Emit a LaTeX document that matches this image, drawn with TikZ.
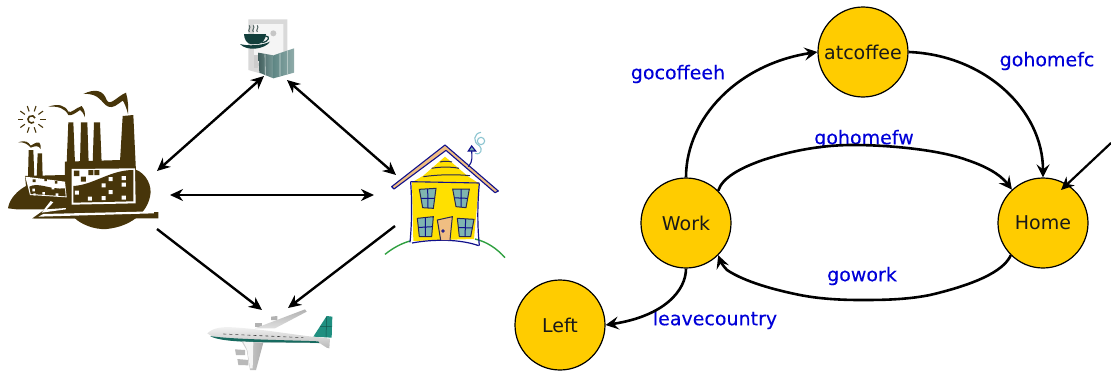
\documentclass[tikz,border=0pt]{standalone}
\usepackage{fontspec}
\setmainfont{DejaVu Sans}
\newfontfamily\labelfont[FakeBold=0.25]{DejaVu Sans}
\usetikzlibrary{arrows.meta,shadings}
\definecolor{statefill}{HTML}{FFCC00}
\definecolor{labelblue}{HTML}{0000D8}
\definecolor{factory}{HTML}{47350A}
\definecolor{hblue}{HTML}{10108C}
\definecolor{hdark}{HTML}{2A2A50}
\definecolor{hyellow}{HTML}{FFE000}
\definecolor{htan}{HTML}{F0BE82}
\definecolor{hpane}{HTML}{7FB5B0}
\definecolor{hgreen}{HTML}{2FA040}
\definecolor{hsmoke}{HTML}{8CC4D0}
\definecolor{planeteal}{HTML}{1F8F80}
\definecolor{booktl}{HTML}{5F8785}
\definecolor{cupdark}{HTML}{123F3C}
\tikzset{
 statenode/.style={circle,draw=black,line width=1.2pt,fill=statefill,minimum size=90pt,inner sep=0pt,text=black!90,font=\fontsize{19}{19}\selectfont},
 translabel/.style={text=labelblue,inner sep=0pt,font=\labelfont\fontsize{19}{19}\selectfont},
 trans/.style={line width=2.6pt,-{Stealth[length=13pt,width=13pt,inset=5pt]}},
 entryarrow/.style={line width=2.2pt,-{Stealth[length=13pt,width=12pt]}},
 dbl/.style={line width=2.4pt,{Stealth[length=13pt,width=12pt]}-{Stealth[length=13pt,width=12pt]}},
 single/.style={line width=2.4pt,-{Stealth[length=13pt,width=12pt]}},
 zoomed/.style={x=0.33333pt,y=-0.33333pt},
}
\begin{document}
\begin{tikzpicture}[x=1pt,y=-1pt]
\useasboundingbox (0,0) rectangle (1111,372);
\coordinate (officeA) at (264,76);
\coordinate (officeB) at (287,80);
\coordinate (factA) at (157,171);
\coordinate (factB) at (170,195);
\coordinate (factC) at (157,229);
\coordinate (houseA) at (396,175);
\coordinate (houseB) at (374,195);
\coordinate (houseC) at (395,226);
\coordinate (planeA) at (262,310);
\coordinate (planeB) at (288,308);
\draw[dbl] (factA) -- (officeA);
\draw[dbl] (officeB) -- (houseA);
\draw[dbl] (factB) -- (houseB);
\draw[single] (factC) -- (planeA);
\draw[single] (houseC) -- (planeB);
% ---- office
\begin{scope}[zoomed,xshift=230pt,yshift=-10pt]
\fill[gray!30] (55,28) -- (172,28) -- (172,165) -- (90,190) -- (55,180) -- cycle;
\fill[gray!8] (72,42) -- (160,42) -- (160,150) -- (72,160) -- cycle;
\fill[gray!45] (130,70) circle (9);
\fill[gray!40] (72,135) rectangle (85,175);
\shade[left color=booktl!70!black,right color=booktl!85!white] (85,128) -- (130,136) -- (130,205) -- (88,188) -- cycle;
\shade[left color=booktl,right color=booktl!70!white] (130,136) -- (192,115) -- (192,188) -- (130,205) -- cycle;
\draw[white!70!booktl,line width=.6pt] (105,133) -- (106,195) (150,130) -- (150,198) (172,122) -- (172,192);
\fill[cupdark] (42,72) -- (108,72) .. controls (108,88) and (95,102) .. (85,102) -- (62,102) .. controls (52,102) and (42,88) .. (42,72) -- cycle;
\draw[cupdark,line width=1.2pt] (106,78) .. controls (122,78) and (118,95) .. (95,98);
\fill[cupdark] (30,102) .. controls (50,108) and (95,108) .. (120,95) .. controls (105,118) and (50,125) .. (30,102) -- cycle;
\draw[gray!60!cupdark,line width=1pt] (58,66) .. controls (52,58) and (64,55) .. (58,46) (70,66) .. controls (64,58) and (76,55) .. (70,46) (82,66) .. controls (76,58) and (88,55) .. (82,46);
\end{scope}
% ---- factory
\begin{scope}[zoomed,yshift=-80pt]
\fill[factory] (250,42) .. controls (285,25) and (310,30) .. (320,60) .. controls (330,80) and (350,50) .. (378,38) .. controls (385,60) and (385,85) .. (384,102) .. controls (380,85) and (372,65) .. (368,62) .. controls (350,75) and (340,85) .. (325,80) .. controls (305,72) and (300,38) .. (250,42) -- cycle;
\fill[factory] (145,80) .. controls (175,70) and (195,75) .. (205,95) .. controls (215,100) and (225,85) .. (245,78) .. controls (255,90) and (255,100) .. (255,112) .. controls (250,100) and (245,92) .. (240,90) .. controls (225,100) and (215,108) .. (205,105) .. controls (195,85) and (175,78) .. (145,80) -- cycle;
\fill[factory] (55,187) .. controls (75,180) and (85,185) .. (92,197) .. controls (100,195) and (105,185) .. (118,188) .. controls (123,195) and (123,200) .. (122,207) .. controls (115,195) and (105,198) .. (92,203) .. controls (85,195) and (75,185) .. (55,187) -- cycle;
\fill[factory] (200,250) -- (205,127) -- (220,127) -- (225,250) -- cycle;
\fill[factory] (240,250) -- (243,127) -- (262,127) -- (266,250) -- cycle;
\fill[factory] (278,250) -- (282,127) -- (300,127) -- (305,250) -- cycle;
\fill[factory] (360,245) -- (368,108) -- (400,105) -- (408,275) -- cycle;
\fill[factory] (84,292) -- (86,210) -- (100,210) -- (103,292) -- cycle;
\fill[factory] (110,292) -- (113,220) -- (126,220) -- (128,292) -- cycle;
\fill[factory] (195,245) -- (362,240) -- (405,268) .. controls (440,280) and (458,320) .. (450,350) .. controls (440,400) and (390,440) .. (320,447) .. controls (280,450) and (240,430) .. (225,415) -- (97,415) -- (135,388) -- (50,388) -- (24,385) .. controls (28,355) and (55,330) .. (78,318) -- (75,288) -- (195,285) -- cycle;
\fill[factory] (97,415) -- (475,396) -- (475,415) -- cycle;
\fill[white] (130,402) -- (462,394) -- (462,400) -- (115,410) -- cycle;
\fill[white] (152,363) -- (160,367) -- (140,388) -- (198,384) -- (198,388) -- (125,398) -- cycle;
\fill[white] (76,290) -- (195,305) -- (200,352) -- (90,345) -- cycle;
\fill[factory] (88,320) .. controls (115,305) and (150,330) .. (195,325) -- (197,349) -- (92,342) -- cycle;
\fill[factory] (98,298) rectangle (107,306) (133,295) rectangle (141,303) (165,303) rectangle (172,311);
\fill[white] (97,326) rectangle (105,334) (127,336) rectangle (135,344) (155,320) rectangle (163,328) (167,340) rectangle (175,348) (100,340) rectangle (107,346);
\fill[white] (215,267) -- (405,265) -- (407,370) -- (215,374) -- cycle;
\fill[factory] (220,318) .. controls (280,315) and (330,270) .. (400,270) -- (400,364) -- (220,368) -- cycle;
\fill[factory] (222,272) rectangle (238,288) (243,290) rectangle (258,305) (265,270) rectangle (280,285) (283,270) rectangle (298,285);
\fill[white] (225,332) rectangle (237,344) (326,291) rectangle (338,303) (365,288) rectangle (378,300) (305,310) rectangle (317,322) (365,308) rectangle (378,320) (326,330) rectangle (338,342) (264,350) rectangle (276,362) (305,348) rectangle (317,360) (365,347) rectangle (378,359);
\draw[factory,line width=1.6pt] (95,118) ++(50:11) arc (50:340:11);
\foreach \a in {0,36,...,324} \draw[factory,line width=1.1pt] (95,118) ++(\a:25) -- ++(\a:17);
\end{scope}
% ---- house
\begin{scope}[zoomed,xshift=380pt,yshift=-125pt]
\draw[hgreen,line width=1.4pt] (15,388) .. controls (40,368) and (65,355) .. (90,348);
\draw[hgreen,line width=1.4pt] (285,342) .. controls (320,350) and (350,370) .. (375,398);
\fill[hyellow] (195,95) -- (130,152) -- (96,172) -- (100,348) -- (180,345) -- (282,342) -- (297,175) -- (265,155) -- cycle;
\draw[hblue,line width=1.2pt] (92,170) .. controls (96,230) and (96,290) .. (90,352);
\draw[hblue,line width=1.2pt] (298,175) .. controls (292,240) and (292,300) .. (298,362);
\draw[hblue,line width=1.2pt] (96,354) .. controls (160,342) and (240,342) .. (296,362);
\draw[hblue,line width=1.1pt] (92,170) -- (298,174);
\draw[hdark,line width=1pt] (130,155) .. controls (180,148) and (230,148) .. (270,152);
\draw[hdark,line width=1pt] (155,130) .. controls (180,125) and (215,125) .. (237,130);
\draw[hdark,line width=1pt] (180,111) .. controls (190,108) and (205,108) .. (216,111);
\fill[htan] (35,185) -- (195,60) -- (355,198) -- (345,203) -- (198,76) -- (42,192) -- cycle;
\draw[hblue,line width=1.1pt,line join=round] (35,185) -- (195,60) -- (355,198) -- (345,203) -- (198,76) -- (42,192) -- cycle;
\foreach \a/\b/\c/\d/\e/\f/\g/\h in {118/193/168/190/160/250/128/248, 218/192/268/192/258/248/228/245, 112/280/160/275/155/335/118/335, 232/280/282/283/272/335/238/335}{
 \fill[hpane] (\a,\b) -- (\c,\d) -- (\e,\f) -- (\g,\h) -- cycle;
 \draw[hdark,line width=1pt] (\a,\b) -- (\c,\d) -- (\e,\f) -- (\g,\h) -- cycle;
 \draw[hblue,line width=1pt] ({(\a+\c)/2},{(\b+\d)/2}) -- ({(\e+\g)/2},{(\f+\h)/2}) ({(\a+\g)/2},{(\b+\h)/2}) -- ({(\c+\e)/2},{(\d+\f)/2});
}
\fill[htan] (172,285) -- (217,275) -- (210,345) -- (182,345) -- cycle;
\draw[hdark,line width=1pt] (182,345) -- (172,285) -- (217,275) -- (210,345);
\draw[hblue,line width=.9pt] (189,318) circle (4);
\draw[hblue,line width=1.1pt] (265,125) .. controls (280,110) and (275,90) .. (275,78);
\draw[hblue,line width=1.2pt,fill=hpane] (275,63) -- (287,78) -- (265,78) -- cycle;
\draw[hsmoke,line width=1.1pt] (285,85) .. controls (305,92) and (308,70) .. (298,62) .. controls (278,52) and (280,25) .. (303,22);
\draw[hsmoke,line width=1.1pt] (303,48) circle (11);
\end{scope}
% ---- plane
\begin{scope}[zoomed,xshift=200pt,yshift=-300pt]
\fill[gray!55] (105,148) -- (135,150) -- (135,165) -- (108,165) -- cycle;
\fill[gray!55] (112,177) -- (145,180) -- (145,196) -- (115,195) -- cycle;
\fill[gray!60] (165,68) -- (185,68) -- (185,82) -- (165,82) -- cycle;
\fill[gray!60] (213,50) -- (232,48) -- (232,60) -- (213,60) -- cycle;
\shade[top color=gray!60,bottom color=gray!25] (165,85) -- (315,28) -- (320,35) -- (225,85) -- cycle;
\fill[planeteal] (340,110) -- (380,48) -- (397,50) -- (395,113) -- cycle;
\draw[planeteal!60!black,line width=.5pt] (360,80) -- (395,80) (380,50) -- (378,112);
\shade[top color=gray!10,bottom color=gray!55] (22,100) .. controls (40,82) and (70,80) .. (100,82) .. controls (200,88) and (300,108) .. (360,112) -- (390,116) -- (388,145) -- (380,143) -- (360,130) .. controls (250,125) and (60,135) .. (22,100) -- cycle;
\fill[planeteal!75!black] (30,108) .. controls (90,118) and (250,120) .. (355,124) -- (358,129) .. controls (250,125) and (70,133) .. (30,108) -- cycle;
\draw[gray!50!black,line width=.6pt,dashed] (70,102) -- (310,113);
\shade[left color=gray!35,right color=gray!65] (125,125) -- (190,128) -- (168,210) -- (150,210) -- (140,150) -- cycle;
\fill[gray!8] (130,125) -- (160,126) -- (158,205) -- (150,205) -- (142,150) -- cycle;
\end{scope}
% ---- state diagram
\node[translabel] (l1) at (678,74) {gocoffeeh};
\node[translabel] (l2) at (1047,61) {gohomefc};
\node[translabel] (l3) at (864,139) {gohomefw};
\node[translabel] (l4) at (862,276) {gowork};
\node[translabel] (l5) at (715,320) {leavecountry};
\node[statenode] (atcoffee) at (863,52) {atcoffee};
\node[statenode] (work) at (686,223) {Work};
\node[statenode] (home) at (1043,223) {Home};
\node[statenode] (left) at (560,325) {Left};
\coordinate (entry) at (1111,143);
\coordinate (entrytip) at (1061,190);
\draw[entryarrow] (entry) -- (entrytip);
\draw[trans] (work.90) .. controls (686,118) and (738,64) .. (atcoffee.180);
\draw[trans] (atcoffee.0) .. controls (985,55) and (1043,110) .. (home.90);
\draw[trans] (work.45) .. controls (722,178) and (740,168) .. (763,160) .. controls (800,148) and (830,145) .. (853,145) .. controls (890,145) and (940,150) .. (967,160) .. controls (985,166) and (1000,174) .. (home.133);
\draw[trans] (home.225) .. controls (1005,268) and (985,282) .. (930,295) .. controls (905,300) and (880,300) .. (860,300) .. controls (835,300) and (815,298) .. (800,295) .. controls (775,290) and (745,282) .. (727,270) .. controls (722,265) and (720,260) .. (work.-45);
\draw[trans] (work.270) .. controls (686,290) and (665,316) .. (left.0);
\end{tikzpicture}
\end{document}
